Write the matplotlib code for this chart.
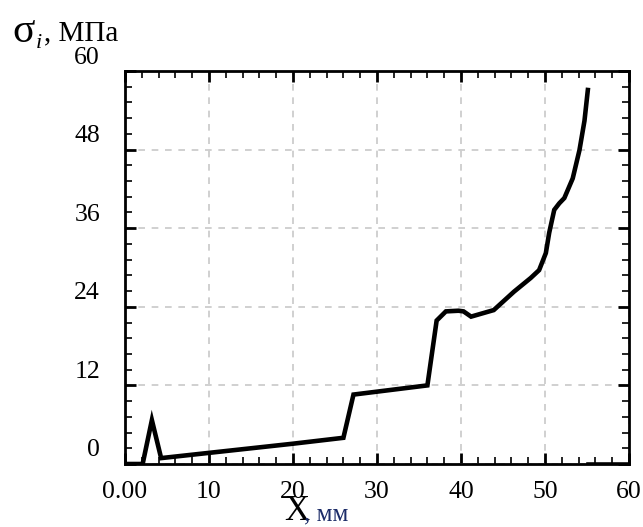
import matplotlib
matplotlib.use("Agg")
import matplotlib.pyplot as plt
import matplotlib.transforms as mtransforms
from matplotlib.ticker import FixedLocator, MultipleLocator

# ── DATA ──────────────────────────────────────────────────────────────────────
x_mm = [0, 2.1, 3.2, 4.3, 10, 20, 26.0, 27.2, 36.0, 37.1, 38.2, 39.7, 40.3,
        41.2, 43.9, 46.3, 48.3, 49.3, 50.1, 50.5, 51.1, 51.7, 52.3, 53.3,
        54.1, 54.7, 55.1]
sigma = [0.0, 0.0, 6.7, 0.9, 1.7, 3.1, 4.0, 10.6, 12.0, 21.9, 23.3, 23.4,
         23.3, 22.5, 23.5, 26.3, 28.4, 29.6, 32.2, 35.3, 38.8, 39.8, 40.6,
         43.6, 47.9, 52.4, 57.1]
x_tail = [55.1, 60]
sigma_tail = [0.0, 0.0]

x_ticks = [0, 10, 20, 30, 40, 50, 60]
x_ticklabels = ["0.00", "10", "20", "30", "40", "50", "60"]
y_ticks = [0, 12, 24, 36, 48, 60]
y_ticklabels = ["0", "12", "24", "36", "48", "60"]

# ── PLOT ──────────────────────────────────────────────────────────────────────
plt.rcParams["font.family"] = ["Liberation Serif", "DejaVu Serif"]
W, H = 643, 527
fig = plt.figure(figsize=(W / 100, H / 100), dpi=100)
ax = fig.add_axes([125 / W, 1 - 464 / H, (629 - 125) / W, (464 - 71) / H])

ax.plot(x_mm, sigma, color="black", lw=3.3, solid_joinstyle="miter", zorder=3)
ax.plot(x_tail, sigma_tail, color="black", lw=3.3, zorder=3)

ax.set_xlim(0, 60)
ax.set_ylim(0, 60)

ax.xaxis.set_major_locator(FixedLocator(x_ticks))
ax.set_xticklabels(x_ticklabels)
ax.xaxis.set_minor_locator(MultipleLocator(2))
ax.yaxis.set_major_locator(FixedLocator(y_ticks))
ax.set_yticklabels(y_ticklabels)
ax.yaxis.set_minor_locator(MultipleLocator(2.4))

ax.grid(True, which="major", color="#c8c8c8", ls=(0, (4, 4)), lw=1.2)
ax.tick_params(which="both", direction="in", top=True, right=True,
               labelsize=18.5, colors="black")
ax.tick_params(which="major", length=8, width=2, pad=12)
ax.tick_params(which="minor", length=5, width=1.2)
ax.tick_params(axis="y", which="major", pad=18)
for sp in ax.spines.values():
    sp.set_linewidth(2)

# Mathcad puts the y labels a bit above their ticks
shift = mtransforms.ScaledTranslation(0, 0.16, fig.dpi_scale_trans)
for lab in ax.get_yticklabels():
    lab.set_transform(lab.get_transform() + shift)
    lab.set_horizontalalignment("right")

# axis titles
fig.text(12 / W, 1 - 42 / H, "σ", fontsize=30, va="baseline")
fig.text(36 / W, 1 - 48 / H, "i", fontsize=16, style="italic", va="baseline")
fig.text(44 / W, 1 - 40 / H, ", МПа", fontsize=21, va="baseline")

fig.text(284 / W, 1 - 520 / H, "X", fontsize=25, va="baseline")
fig.text(304 / W, 1 - 520 / H, ", мм", fontsize=18, va="baseline",
         color="#1c2c68")

fig.savefig("out.png", dpi=100)
